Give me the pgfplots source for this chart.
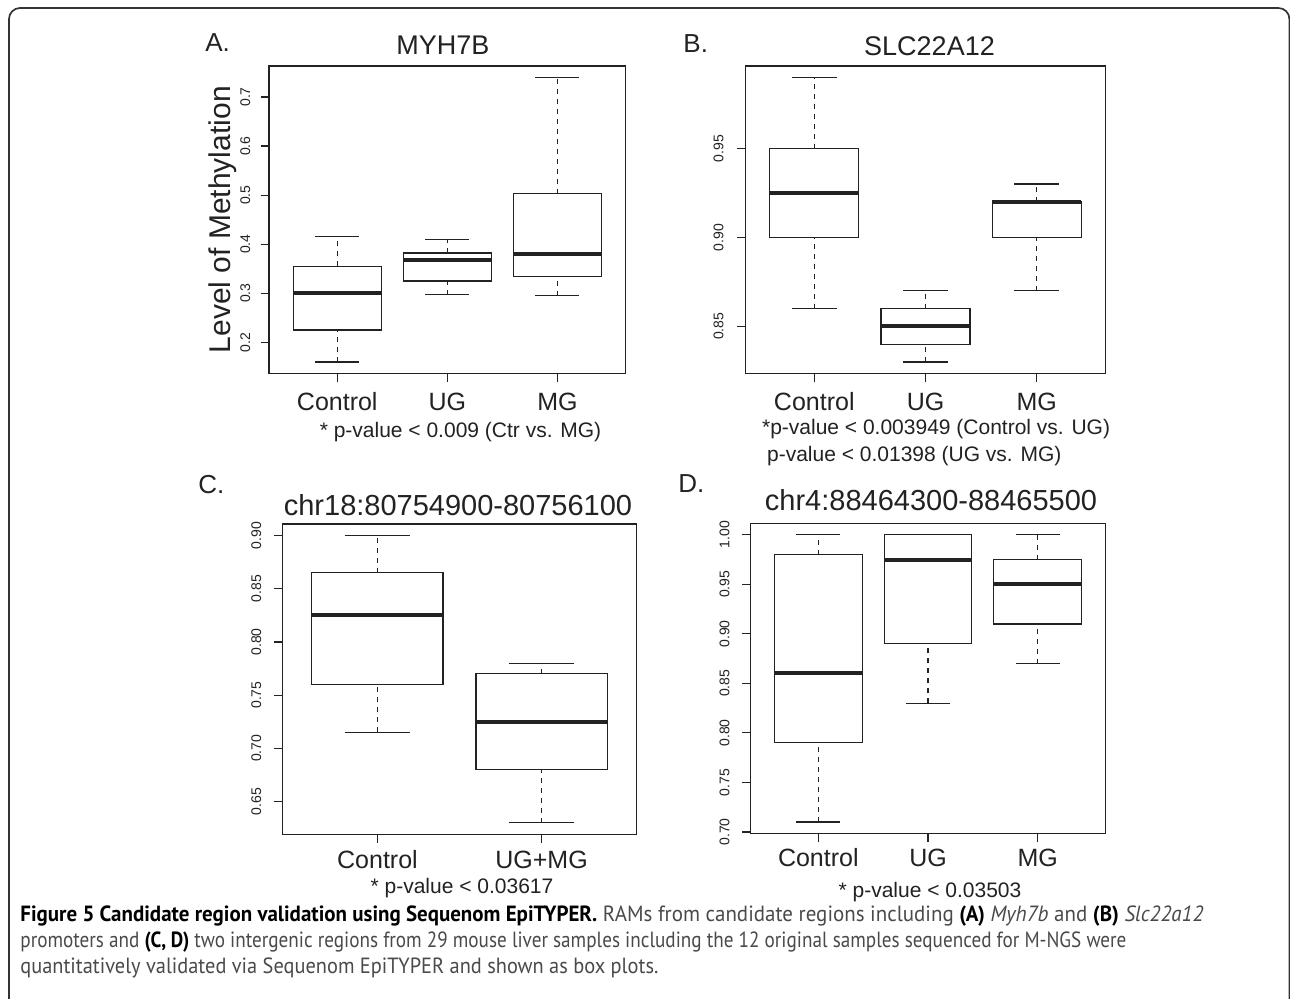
\documentclass[border=0pt]{standalone}
\usepackage{pgfplots}
\pgfplotsset{compat=1.18}
\usepgfplotslibrary{statistics}
\usepackage{fontspec}
\setmainfont{Liberation Sans}
\newfontfamily\capfont{PT Sans}
\usepackage{graphicx}

\definecolor{ink}{HTML}{222222}
\definecolor{capgray}{HTML}{4A4A4A}

\pgfplotsset{
  rpanel/.style={
    scale only axis,
    axis line style={line width=0.6pt, ink},
    every tick/.style={line width=0.6pt, ink},
    tick align=outside,
    major tick length=4.25pt,
    xtick pos=left, ytick pos=left,
    xticklabel style={font=\fontsize{12.5}{14}\selectfont, text=ink, anchor=base},
    yticklabel style={font=\fontsize{7}{8}\selectfont, text=ink, rotate=90, anchor=base},
    minor tick num=0,
    boxplot/draw direction=y,
    boxplot/every box/.style={line width=0.6pt, draw=ink},
    boxplot/every median/.style={line width=2pt, draw=ink},
    boxplot/box extend=0.8,
    boxplot/whisker extend=0.4,
    boxplot/draw/lower whisker/.code={%
      \draw[line width=0.6pt, ink, dash pattern=on 2.5pt off 2.5pt]
        (boxplot box cs:\pgfplotsboxplotvalue{lower whisker},0.5) --
        (boxplot box cs:\pgfplotsboxplotvalue{lower quartile},0.5);
      \draw[line width=0.6pt, ink]
        (boxplot whisker cs:\pgfplotsboxplotvalue{lower whisker},0) --
        (boxplot whisker cs:\pgfplotsboxplotvalue{lower whisker},1);
    },
    boxplot/draw/upper whisker/.code={%
      \draw[line width=0.6pt, ink, dash pattern=on 2.5pt off 2.5pt]
        (boxplot box cs:\pgfplotsboxplotvalue{upper quartile},0.5) --
        (boxplot box cs:\pgfplotsboxplotvalue{upper whisker},0.5);
      \draw[line width=0.6pt, ink]
        (boxplot whisker cs:\pgfplotsboxplotvalue{upper whisker},0) --
        (boxplot whisker cs:\pgfplotsboxplotvalue{upper whisker},1);
    },
  },
}

\begin{document}
\begin{tikzpicture}
\useasboundingbox (0pt,0pt) rectangle (645pt,-499pt);
\fill[white] (0pt,0pt) rectangle (645pt,-499pt);
\draw[line width=0.85pt, black!80, rounded corners=5.5pt] (4.5pt,-4pt) rectangle (644.7pt,-530pt);

% ---------- Panel A ----------
\begin{axis}[rpanel, at={(134.5pt,-186.65pt)}, anchor=south west,
  width=178.35pt, height=153.65pt,
  xmin=0.38, xmax=3.62, ymin=0.1368, ymax=0.7632,
  xtick={1,2,3}, xticklabels={Control,UG,MG},
  ytick={0.2,0.3,0.4,0.5,0.6,0.7}, yticklabels={0.2,0.3,0.4,0.5,0.6,0.7},
  xticklabel shift=14.1pt, yticklabel shift=5.25pt,
  ylabel={Level of Methylation},
  ylabel style={at={(axis description cs:-0.1074,0.5)}, anchor=base, font=\fontsize{15}{18}\selectfont, text=ink}]
\addplot[ink, boxplot prepared={draw position=1, lower whisker=0.16, lower quartile=0.225, median=0.301, upper quartile=0.355, upper whisker=0.415}] coordinates {};
\addplot[ink, boxplot prepared={draw position=2, lower whisker=0.297, lower quartile=0.325, median=0.368, upper quartile=0.382, upper whisker=0.409}] coordinates {};
\addplot[ink, boxplot prepared={draw position=3, lower whisker=0.295, lower quartile=0.334, median=0.381, upper quartile=0.503, upper whisker=0.74}] coordinates {};
\end{axis}

% ---------- Panel B ----------
\begin{axis}[rpanel, at={(372.65pt,-186.65pt)}, anchor=south west,
  width=180.2pt, height=153.65pt,
  xmin=0.38, xmax=3.62, ymin=0.8236, ymax=0.9964,
  xtick={1,2,3}, xticklabels={Control,UG,MG},
  ytick={0.85,0.90,0.95}, yticklabels={0.85,0.90,0.95},
  xticklabel shift=14.1pt, yticklabel shift=6.75pt]
\addplot[ink, boxplot prepared={draw position=1, lower whisker=0.86, lower quartile=0.90, median=0.925, upper quartile=0.95, upper whisker=0.99}] coordinates {};
\addplot[ink, boxplot prepared={draw position=2, lower whisker=0.83, lower quartile=0.84, median=0.85, upper quartile=0.86, upper whisker=0.87}] coordinates {};
\addplot[ink, boxplot prepared={draw position=3, lower whisker=0.87, lower quartile=0.90, median=0.92, upper quartile=0.92, upper whisker=0.93}] coordinates {};
\end{axis}

% ---------- Panel C ----------
\begin{axis}[rpanel, at={(141.15pt,-417.15pt)}, anchor=south west,
  width=177.2pt, height=155.15pt,
  xmin=0.42, xmax=2.58, ymin=0.6192, ymax=0.9108,
  xtick={1,2}, xticklabels={Control,UG+MG},
  ytick={0.65,0.70,0.75,0.80,0.85,0.90}, yticklabels={0.65,0.70,0.75,0.80,0.85,0.90},
  xticklabel shift=12.75pt, yticklabel shift=6.4pt]
\addplot[ink, boxplot prepared={draw position=1, lower whisker=0.715, lower quartile=0.76, median=0.825, upper quartile=0.865, upper whisker=0.90}] coordinates {};
\addplot[ink, boxplot prepared={draw position=2, lower whisker=0.63, lower quartile=0.68, median=0.725, upper quartile=0.77, upper whisker=0.78}] coordinates {};
\end{axis}

% ---------- Panel D ----------
\begin{axis}[rpanel, at={(375.15pt,-416.75pt)}, anchor=south west,
  width=177.7pt, height=155.1pt,
  xmin=0.38, xmax=3.62, ymin=0.6984, ymax=1.0116,
  xtick={1,2,3}, xticklabels={Control,UG,MG},
  ytick={0.70,0.75,0.80,0.85,0.90,0.95,1.00}, yticklabels={0.70,0.75,0.80,0.85,0.90,0.95,1.00},
  xticklabel shift=12.35pt, yticklabel shift=6.25pt]
\addplot[ink, boxplot prepared={draw position=1, lower whisker=0.71, lower quartile=0.79, median=0.86, upper quartile=0.98, upper whisker=1.00}] coordinates {};
\addplot[ink, boxplot prepared={draw position=2, lower whisker=0.83, lower quartile=0.89, median=0.975, upper quartile=1.00, upper whisker=1.00}] coordinates {};
\addplot[ink, boxplot prepared={draw position=3, lower whisker=0.87, lower quartile=0.91, median=0.95, upper quartile=0.975, upper whisker=1.00}] coordinates {};
\end{axis}

% ---------- titles, letters, notes ----------
\begin{scope}[every node/.style={inner sep=0pt, text=ink}]
\node[anchor=base, font=\fontsize{13.5}{16}\selectfont] at (221.5pt,-27pt) {MYH7B};
\node[anchor=base, font=\fontsize{13.5}{16}\selectfont] at (464.75pt,-27.5pt) {SLC22A12};
\node[anchor=base, font=\fontsize{14.5}{17}\selectfont] at (229pt,-257.5pt) {chr18:80754900-80756100};
\node[anchor=base, font=\fontsize{14.5}{17}\selectfont] at (465.5pt,-255.35pt) {chr4:88464300-88465500};

\node[anchor=base west, font=\fontsize{13}{15}\selectfont] at (102.5pt,-25.85pt) {A.};
\node[anchor=base west, font=\fontsize{13}{15}\selectfont] at (341.5pt,-26.35pt) {B.};
\node[anchor=base west, font=\fontsize{13}{15}\selectfont] at (99pt,-246.5pt) {C.};
\node[anchor=base west, font=\fontsize{13}{15}\selectfont] at (339pt,-246.35pt) {D.};

\node[anchor=base, font=\fontsize{10.5}{12}\selectfont] at (230.25pt,-218.5pt) {* p-value < 0.009 (Ctr vs. MG)};
\node[anchor=base west, font=\fontsize{10.5}{12}\selectfont] at (380.85pt,-217.2pt) {*p-value < 0.003949 (Control vs. UG)};
\node[anchor=base west, font=\fontsize{10.5}{12}\selectfont] at (383.35pt,-230.5pt) {p-value < 0.01398 (UG vs. MG)};
\node[anchor=base, font=\fontsize{10.5}{12}\selectfont] at (231pt,-446.5pt) {* p-value < 0.03617};
\node[anchor=base, font=\fontsize{10.5}{12}\selectfont] at (465pt,-448.5pt) {* p-value < 0.03503};
\end{scope}

% ---------- caption ----------
\begin{scope}[every node/.style={inner sep=0pt, anchor=base west}]
\node at (10pt,-460.5pt) {\resizebox{591.5pt}{\height}{\capfont\fontsize{11}{13}\selectfont\textbf{Figure 5 Candidate region validation using Sequenom EpiTYPER.} \textcolor{capgray}{RAMs from candidate regions including} \textbf{(A)} \textcolor{capgray}{\textit{Myh7b} and} \textbf{(B)} \textcolor{capgray}{\textit{Slc22a12}}}};
\node at (10pt,-473.5pt) {\resizebox{553pt}{\height}{\capfont\fontsize{11}{13}\selectfont\textcolor{capgray}{promoters and} \textbf{(C, D)} \textcolor{capgray}{two intergenic regions from 29 mouse liver samples including the 12 original samples sequenced for M-NGS were}}};
\node at (10pt,-486.5pt) {\resizebox{319pt}{\height}{\capfont\fontsize{11}{13}\selectfont\textcolor{capgray}{quantitatively validated via Sequenom EpiTYPER and shown as box plots.}}};
\end{scope}
\end{tikzpicture}
\end{document}
